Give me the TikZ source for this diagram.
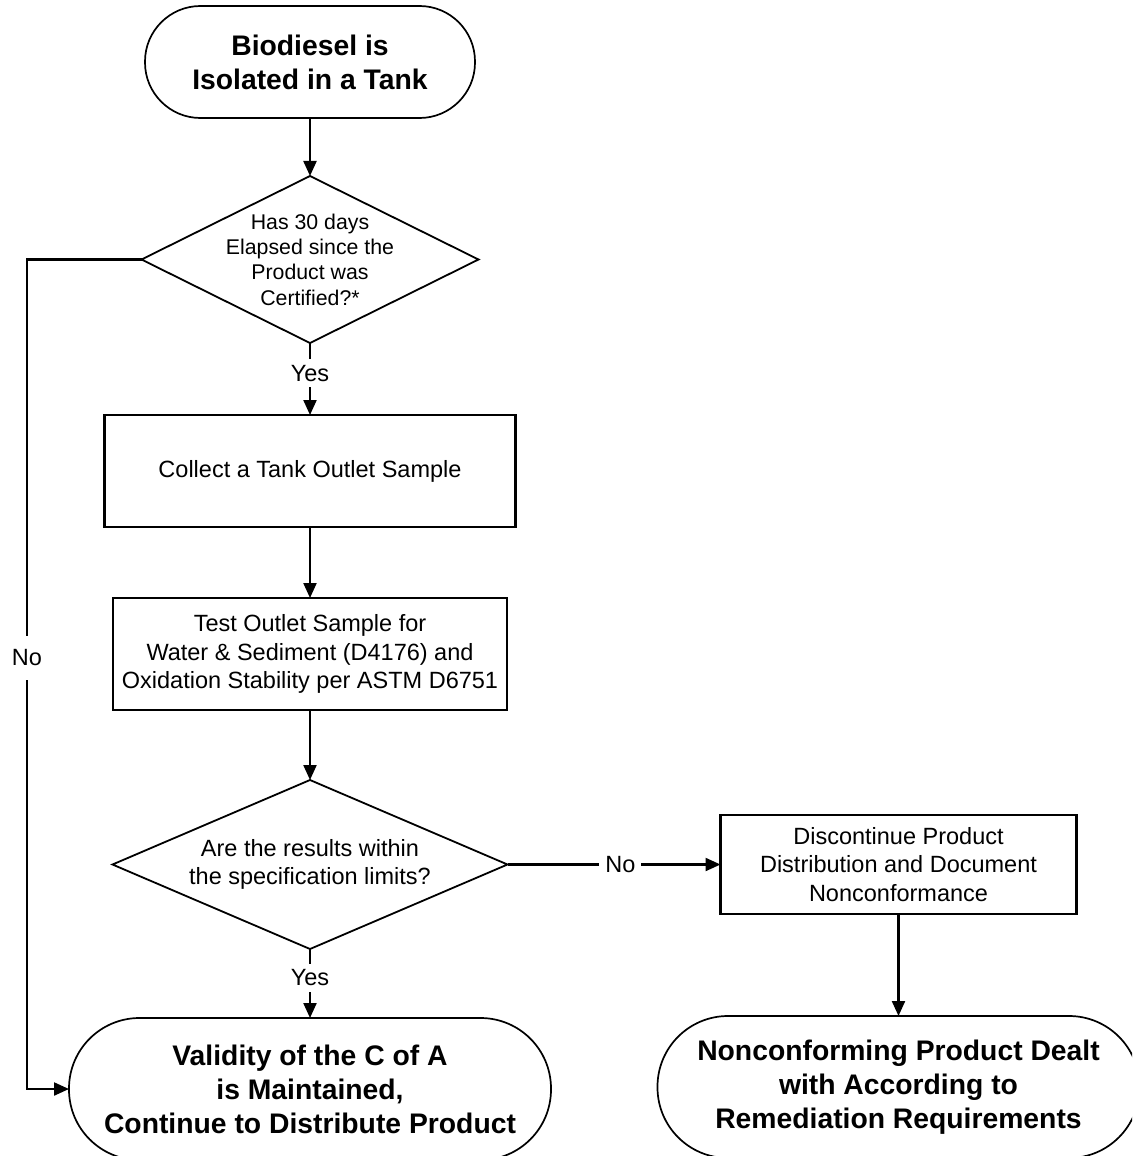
\documentclass[tikz,border=0pt]{standalone}
\usepackage{fontspec}
\setmainfont{Liberation Sans}
\usetikzlibrary{positioning,shapes.geometric,arrows.meta}
\begin{document}
\begin{tikzpicture}[
    x=1pt, y=-1pt,
    terminal/.style={rectangle, draw, line width=1.7pt, outer sep=0pt, align=center, font=\fontsize{28.3}{34}\selectfont\bfseries},
    process/.style={rectangle, draw, line width=2.2pt, outer sep=0pt, align=center, font=\fontsize{23.5}{28.5}\selectfont},
    decision/.style={diamond, draw, line width=1.8pt, outer sep=0pt, align=center, inner sep=-10pt, aspect=2, font=\fontsize{23.5}{27.5}\selectfont},
    answer/.style={fill=white, inner sep=6pt, font=\fontsize{23.5}{28}\selectfont},
    arrow/.style={-{Triangle[length=15pt,width=13pt]}, line width=2.2pt}
]
    \useasboundingbox (0,0) rectangle (1132,1156);
    \clip (0,0) rectangle (1132,1156);
    \fill[white] (0,0) rectangle (1132,1156);

    \node[terminal, minimum width=330pt, minimum height=112pt, rounded corners=55.5pt] (start) at (310,62) {Biodiesel is\\Isolated in a Tank};
    \node[decision, minimum width=337pt, minimum height=167pt, font=\fontsize{21.3}{25.3}\selectfont, below=58pt of start] (elapsed) {Has 30 days\\Elapsed since the\\Product was\\Certified?*};
    \node[process, minimum width=411pt, minimum height=112pt, below=72pt of elapsed] (collect) {Collect a Tank Outlet Sample};
    \node[process, minimum width=394pt, minimum height=112pt, below=71pt of collect] (test) {Test Outlet Sample for\\Water \& Sediment (D4176) and\\Oxidation Stability per ASTM D6751};
    \node[decision, minimum width=395pt, minimum height=169pt, below=70pt of test] (results) {Are the results within\\the specification limits?};
    \node[terminal, minimum width=482pt, minimum height=142pt, rounded corners=70.5pt, below=69pt of results] (valid) {Validity of the C of A\\is Maintained,\\Continue to Distribute Product};
    \node[process, minimum width=356pt, minimum height=99pt, right=213pt of results] (discontinue) {Discontinue Product\\Distribution and Document\\Nonconformance};
    \node[terminal, minimum width=482pt, minimum height=142pt, rounded corners=70.5pt, below=102pt of discontinue] (remedy) {Nonconforming Product Dealt\\with According to\\Remediation Requirements};
    \coordinate (nobend) at (27,658);

    \draw[arrow] (start) -- (elapsed);
    \draw[arrow] (elapsed) -- node[answer, pos=0.42] {Yes} (collect);
    \draw[arrow] (collect) -- (test);
    \draw[arrow] (test) -- (results);
    \draw[arrow] (results) -- node[answer, pos=0.42] {Yes} (valid);
    \draw[arrow] (results) -- node[answer, pos=0.53] {No} (discontinue);
    \draw[arrow] (discontinue) -- (remedy);
    \draw[arrow] (elapsed.west) -| (nobend) node[answer, inner ysep=14pt] {No} |- (valid.west);
\end{tikzpicture}
\end{document}
